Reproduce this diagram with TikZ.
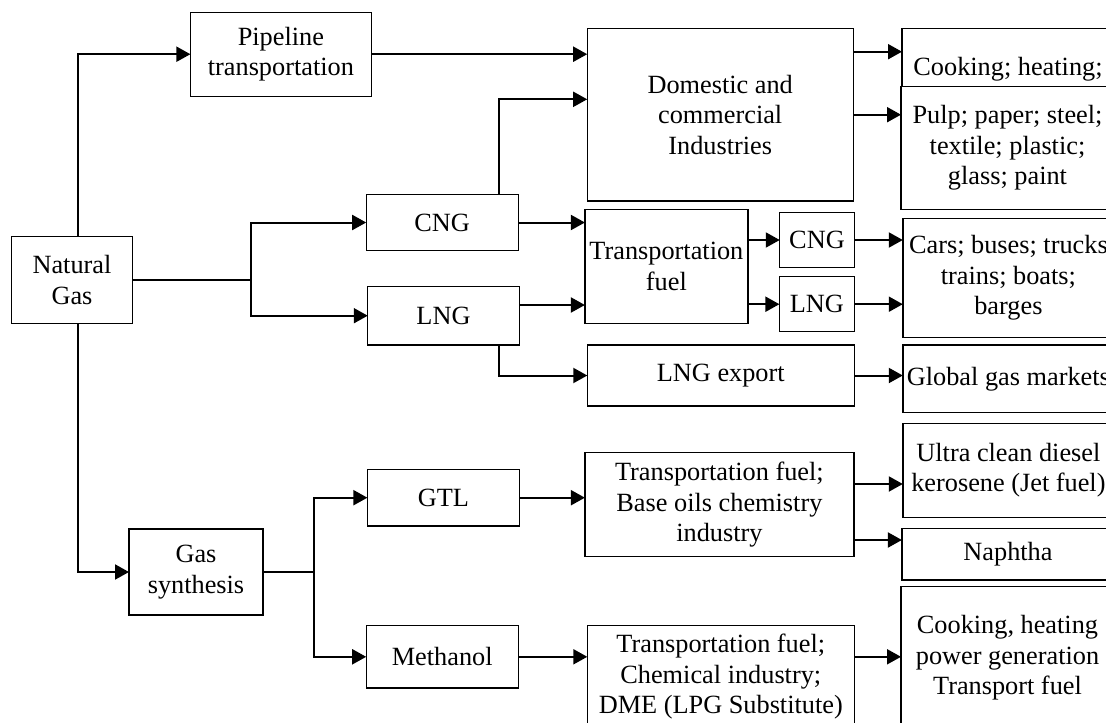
\documentclass[tikz,border=0pt]{standalone}
\usepackage{fontspec}
\setmainfont{Liberation Serif}
\usetikzlibrary{arrows.meta,calc}
\begin{document}
\begin{tikzpicture}[x=1pt,y=-1pt,
  box/.style={draw, line width=1.4pt, fill=white, inner sep=0pt, outer sep=0pt,
    align=center, font=\fontsize{26.3}{30.5}\selectfont},
  arr/.style={line width=2pt, -{Triangle[length=14pt,width=15pt]}},
  ln/.style={line width=2pt}]
\useasboundingbox (0,0) rectangle (1106,723);
\clip (0,0) rectangle (1106,723);
\fill[white] (0,0) rectangle (1106,723);
% left column
\node[box, minimum width=121pt, minimum height=86.6pt] (ng) at (72,280) {Natural\\Gas};
\node[box, minimum width=181pt, minimum height=84pt] (pipe) at (280.9,54.2) {Pipeline\\transportation};
\node[box, minimum width=134pt, minimum height=86pt] (gs) at (196,572) {Gas\\synthesis};
% second column
\node[box, minimum width=152pt, minimum height=56.4pt] (cng) at (442.2,222.5) {CNG};
\node[box, minimum width=151.5pt, minimum height=58.7pt] (lng) at (443.5,315.7) {LNG};
\node[box, minimum width=152pt, minimum height=56.7pt] (gtl) at (443.4,497.7) {GTL};
\node[box, minimum width=152pt, minimum height=62.3pt] (meth) at (442.2,656.8) {Methanol};
% third column
\node[box, minimum width=266pt, minimum height=172.7pt] (dom) at (720.2,114.7) {Domestic and\\commercial\\Industries};
\node[box, minimum width=163pt, minimum height=114pt] (tf) at (666.4,266.3) {Transportation\\fuel};
\node[box, minimum width=74.5pt, minimum height=55.4pt] (cng2) at (817,240) {CNG};
\node[box, minimum width=75pt, minimum height=55pt] (lng2) at (816.9,304.2) {LNG};
\node[box, minimum width=267pt, minimum height=61pt] (lngx) at (720.8,375.5) {LNG export};
\node[box, minimum width=269pt, minimum height=104pt] (tfb) at (719.4,504.7) {Transportation fuel;\\Base oils chemistry\\industry};
\node[box, minimum width=267pt, minimum height=102.3pt] (tfc) at (720.8,676.8) {Transportation fuel;\\Chemical industry;\\DME (LPG Substitute)};
% right column
\node[box, minimum width=212pt, minimum height=81pt] (cook) at (1008,68.8) {Cooking; heating;};
\node[box, minimum width=213pt, minimum height=122.6pt] (pulp) at (1007.5,148) {Pulp; paper; steel;\\textile; plastic;\\glass; paint};
\node[box, minimum width=211.2pt, minimum height=119.4pt] (cars) at (1008.4,278) {Cars; buses; trucks\\trains; boats;\\barges};
\node[box, minimum width=211.2pt, minimum height=67.7pt] (glob) at (1008.4,378.8) {Global gas markets};
\node[box, minimum width=211.2pt, minimum height=94pt] (ultra) at (1008.4,470.3) {Ultra clean diesel\\kerosene (Jet fuel)};
\node[box, minimum width=212.2pt, minimum height=51.7pt] (naph) at (1008,554.2) {Naphtha};
\node[box, minimum width=213pt, minimum height=142.3pt] (cook2) at (1007.5,657.8) {Cooking, heating\\power generation\\Transport fuel};
% helper coordinates
\coordinate (j1) at (250.7,280);
\coordinate (j2) at (313.8,572);
\path ([xshift=5.7pt]ng.north) coordinate (ngn)
      ([xshift=5.7pt]ng.south) coordinate (ngs)
      ([xshift=56.5pt]cng.north) coordinate (cngn)
      ([yshift=15.4pt]dom.west) coordinate (domw)
      ([yshift=10.7pt]lng.east) coordinate (lnge)
      ([xshift=55.2pt]lng.south) coordinate (lngs)
      ([yshift=63pt]dom.east) coordinate (dome)
      ([yshift=20.7pt]tfb.east) coordinate (tb1)
      ([yshift=-35.3pt]tfb.east) coordinate (tb2);
% connectors
\draw[arr] (ngn) |- (pipe.west);
\draw[arr] (ngs) |- (gs.west);
\draw[arr] (pipe.east) -- (pipe.east -| dom.west);
\draw[ln] (ng.east) -- (j1);
\draw[arr] (j1) |- (cng.west);
\draw[arr] (j1) |- (lng.west);
\draw[arr] (cngn) |- (domw);
\draw[arr] (cng.east) -- (cng.east -| tf.west);
\draw[arr] (lnge) -- (lnge -| tf.west);
\draw[arr] (lngs) |- (lngx.west);
\draw[arr] (cng2.west -| tf.east) -- (cng2.west);
\draw[arr] (lng2.west -| tf.east) -- (lng2.west);
\draw[arr] (cng2.east) -- (cng2.east -| cars.west);
\draw[arr] (lng2.east) -- (lng2.east -| cars.west);
\draw[arr] (dome) -- (dome -| cook.west);
\draw[arr] (dom.east) -- (dom.east -| pulp.west);
\draw[arr] (lngx.east) -- (lngx.east -| glob.west);
\draw[ln] (gs.east) -- (j2);
\draw[arr] (j2) |- (gtl.west);
\draw[arr] (j2) |- (meth.west);
\draw[arr] (gtl.east) -- (gtl.east -| tfb.west);
\draw[arr] (tb1) -- (tb1 -| ultra.west);
\draw[arr] (tb2) -- (tb2 -| naph.west);
\draw[arr] (meth.east) -- (meth.east -| tfc.west);
\draw[arr] (tfc.east |- meth.east) -- (meth.east -| cook2.west);
\end{tikzpicture}
\end{document}
